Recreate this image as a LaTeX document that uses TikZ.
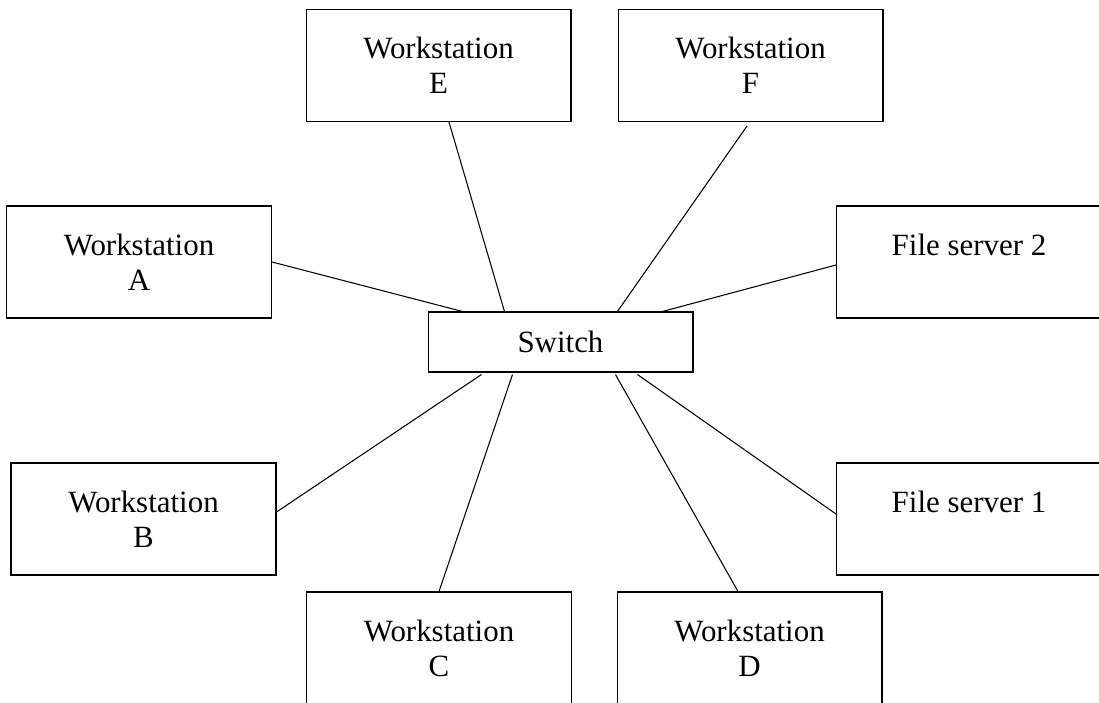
\documentclass[tikz,border=0pt]{standalone}
\usepackage{fontspec}
\setmainfont{Liberation Serif}
\usepackage{tikz}

\begin{document}
\begin{tikzpicture}[x=0.02cm, y=-0.02cm, line width=0.6pt,
        box/.style={draw, minimum width=5.3cm, minimum height=2.24cm, inner sep=0pt, align=center,
            font=\fontsize{17.6}{19.9}\selectfont},
        hub/.style={box, minimum height=1.2cm}]
        \clip (0,0) rectangle (1099,703);

        % Define the switch
        \node[hub] (SW) at (560.5,342) {Switch};

        % Define the workstations and servers
        \node[box] (E) at (438.5,65.5) {Workstation\\E};
        \node[box] (F) at (750.5,65.5) {Workstation\\F};
        \node[box] (A) at (139,262) {Workstation\\A};
        \node[box] (FS2) at (969,262) {File server 2\\\mbox{}};
        \node[box] (B) at (143.5,519) {Workstation\\B};
        \node[box] (FS1) at (969,519) {File server 1\\\mbox{}};
        \node[box] (C) at (439,648) {Workstation\\C};
        \node[box] (D) at (749.5,648) {Workstation\\D};

        % Define the links
        \draw (A.east) -- ([xshift=0.7cm]SW.north west);
        \draw ([xshift=0.21cm]E.south) -- ([xshift=1.54cm]SW.north west);
        \draw ([xshift=-0.07cm,yshift=-0.08cm]F.south) -- ([xshift=3.8cm]SW.north west);
        \draw ([yshift=-0.06cm]FS2.west) -- ([xshift=4.7cm]SW.north west);
        \draw ([yshift=0.14cm]B.east) -- ([xshift=1.08cm,yshift=-0.04cm]SW.south west);
        \draw (C.north) -- ([xshift=1.7cm,yshift=-0.04cm]SW.south west);
        \draw ([xshift=-0.23cm]D.north) -- ([xshift=3.76cm,yshift=-0.04cm]SW.south west);
        \draw ([yshift=0.1cm]FS1.west) -- ([xshift=4.2cm,yshift=-0.04cm]SW.south west);

    \end{tikzpicture}
\end{document}
